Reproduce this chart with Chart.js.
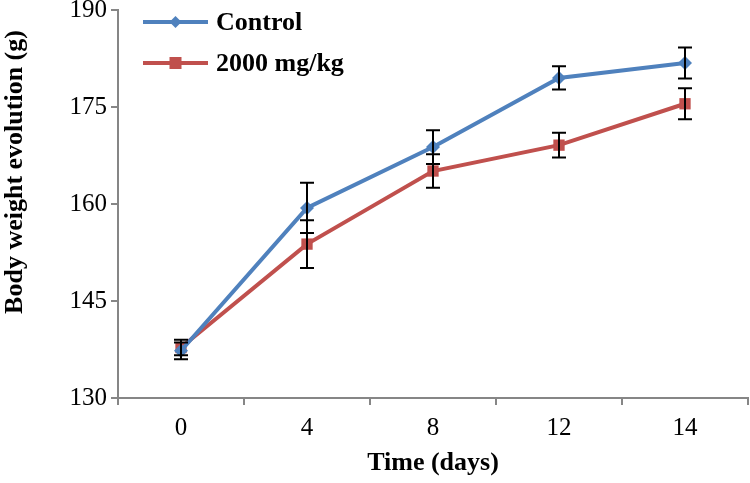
<!DOCTYPE html>
<html>
<head>
<meta charset="utf-8">
<script src="https://cdn.jsdelivr.net/npm/chart.js@4.4.0/dist/chart.umd.min.js"></script>
<style>
  html, body { margin: 0; padding: 0; background: #fff; }
  #wrap { width: 750px; height: 483px; }
</style>
</head>
<body>
<div id="wrap"><canvas id="myChart"></canvas></div>
<script>
// data
let days = ["0", "4", "8", "12", "14"];
let controlValues = [137.3, 159.4, 168.8, 179.5, 181.8];
let controlErrors = [1.3, 3.9, 2.6, 1.8, 2.4];
let doseValues = [137.8, 153.8, 165.1, 169.1, 175.5];
let doseErrors = [1.2, 3.7, 2.6, 1.9, 2.4];
let yTicks = [130, 145, 160, 175, 190];
let yTitle = "Body weight evolution (g)";

let blue = "#4F81BD";
let red = "#C0504D";
let axisGray = "#868686";
let serif = "'Liberation Serif', 'Times New Roman', serif";

// error bars on top of the lines
let errorBars = {
  id: "errorBars",
  afterDatasetsDraw(chart) {
    let ctx = chart.ctx;
    let y = chart.scales.y;
    ctx.save();
    ctx.strokeStyle = "#000";
    ctx.lineWidth = 2;
    chart.data.datasets.forEach((ds, i) => {
      let meta = chart.getDatasetMeta(i);
      meta.data.forEach((pt, j) => {
        let v = ds.data[j];
        let e = ds.errors[j];
        let top = y.getPixelForValue(v + e);
        let bot = y.getPixelForValue(v - e);
        ctx.beginPath();
        ctx.moveTo(pt.x, top); ctx.lineTo(pt.x, bot);
        ctx.moveTo(pt.x - 7, top); ctx.lineTo(pt.x + 7, top);
        ctx.moveTo(pt.x - 7, bot); ctx.lineTo(pt.x + 7, bot);
        ctx.stroke();
      });
    });
    ctx.restore();
  }
};

// legend inside the plot + y title (sits a bit above centre in the original)
let innerLegend = {
  id: "innerLegend",
  afterDraw(chart) {
    let ctx = chart.ctx;
    let area = chart.chartArea;
    ctx.save();
    chart.data.datasets.forEach((ds, i) => {
      let ly = area.top + 12 + i * 41;
      let x0 = area.left + 25;
      let x1 = x0 + 65;
      ctx.strokeStyle = ds.borderColor;
      ctx.lineWidth = 4;
      ctx.beginPath();
      ctx.moveTo(x0, ly); ctx.lineTo(x1, ly);
      ctx.stroke();
      ctx.fillStyle = ds.borderColor;
      let mx = (x0 + x1) / 2;
      if (ds.pointStyle === "rectRot") {
        ctx.beginPath();
        ctx.moveTo(mx, ly - 6); ctx.lineTo(mx + 6, ly);
        ctx.lineTo(mx, ly + 6); ctx.lineTo(mx - 6, ly);
        ctx.closePath(); ctx.fill();
      } else {
        ctx.fillRect(mx - 6, ly - 6, 12, 12);
      }
      ctx.fillStyle = "#000";
      ctx.font = "bold 26px " + serif;
      ctx.textBaseline = "middle";
      ctx.fillText(ds.label, x1 + 8, ly + 1);
    });

    ctx.translate(15, area.top + 162);
    ctx.rotate(-Math.PI / 2);
    ctx.font = "bold 26px " + serif;
    ctx.textAlign = "center";
    ctx.textBaseline = "middle";
    ctx.fillText(yTitle, 0, 0);
    ctx.restore();
  }
};

new Chart("myChart", {
  type: "line",
  data: {
    labels: days,
    datasets: [
      {
        label: "Control",
        data: controlValues,
        errors: controlErrors,
        borderColor: blue,
        backgroundColor: blue,
        borderWidth: 4,
        pointStyle: "rectRot",
        pointRadius: 7,
        pointBorderWidth: 0,
        tension: 0,
      },
      {
        label: "2000 mg/kg",
        data: doseValues,
        errors: doseErrors,
        borderColor: red,
        backgroundColor: red,
        borderWidth: 4,
        pointStyle: "rect",
        pointRadius: 8,
        pointBorderWidth: 0,
        tension: 0,
      },
    ],
  },
  options: {
    responsive: true,
    maintainAspectRatio: false,
    animation: false,
    layout: { autoPadding: false, padding: { top: 0, right: 2, left: 0, bottom: 0 } },
    plugins: {
      legend: { display: false },
      tooltip: { enabled: false },
    },
    scales: {
      x: {
        type: "category",
        offset: true,
        grid: {
          offset: true,
          drawOnChartArea: false,
          drawTicks: true,
          tickLength: 7,
          color: axisGray,
          lineWidth: 2,
        },
        border: { color: axisGray, width: 2 },
        ticks: {
          color: "#000",
          font: { family: serif, size: 25 },
          padding: 8,
          maxRotation: 0,
        },
        title: {
          display: true,
          text: "Time (days)",
          color: "#000",
          font: { family: serif, size: 26, weight: "bold" },
          padding: { top: 4, bottom: 4 },
        },
        afterFit(scale) {
          scale.height = 85;
          scale.paddingLeft = 0;
          scale.paddingRight = 0;
        },
      },
      y: {
        min: 130,
        max: 190,
        afterBuildTicks(scale) {
          scale.ticks = yTicks.map(v => ({ value: v }));
        },
        grid: {
          drawOnChartArea: false,
          drawTicks: true,
          tickLength: 7,
          color: axisGray,
          lineWidth: 2,
        },
        border: { color: axisGray, width: 2 },
        ticks: {
          color: "#000",
          font: { family: serif, size: 25 },
          padding: 4,
        },
        afterFit(scale) {
          scale.width = 118;
          scale.paddingTop = 10;
          scale.paddingBottom = 0;
        },
      },
    },
  },
  plugins: [errorBars, innerLegend],
});
</script>
</body>
</html>
